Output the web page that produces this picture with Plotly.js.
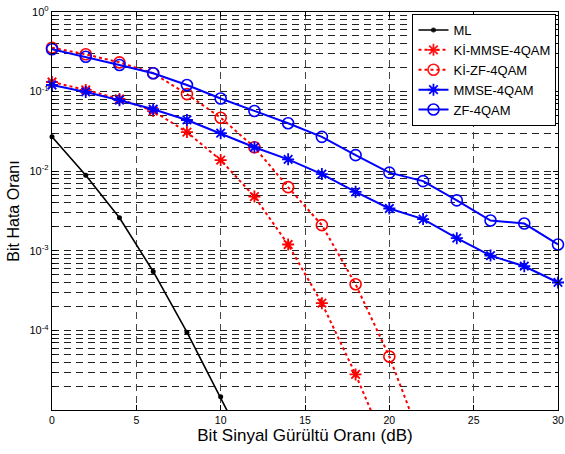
<!DOCTYPE html>
<html>
<head>
<meta charset="utf-8">
<script src="https://cdn.plot.ly/plotly-3.0.1.min.js"></script>
<style>html,body{margin:0;padding:0;background:#fff;}#chart{width:565px;height:454px;}</style>
</head>
<body>
<div id="chart"></div>
<script>
// SNR (dB)
const snr = [0,2,4,6,8,10,12,14,16,18,20,22,24,26,28,30];
// Bit error rates
const mlSnr = [0,2,4,6,8,10,12];
const mlBer = [0.027,0.0089,0.0026,5.5e-4,9.5e-5,1.47e-5,2.1e-6];
const kiMmseSnr = [0,2,4,6,8,10,12,14,16,18,20];
const kiMmseBer = [0.132,0.105,0.081,0.057,0.031,0.0138,0.0048,0.0012,2.2e-4,2.8e-5,2.8e-6];
const kiZfSnr = [0,2,4,6,8,10,12,14,16,18,20,22];
const kiZfBer = [0.356,0.294,0.233,0.17,0.093,0.047,0.020,0.0063,0.0021,3.8e-4,4.7e-5,3.6e-6];
const mmseBer = [0.121,0.099,0.078,0.060,0.044,0.030,0.020,0.0141,0.0092,0.0055,0.0034,0.0025,0.00144,8.7e-4,6.4e-4,4.0e-4];
const zfBer = [0.34,0.274,0.216,0.17,0.121,0.082,0.057,0.040,0.027,0.0159,0.0096,0.0075,0.0043,0.0024,0.0022,0.0012];
const names = ['ML','Kİ-MMSE-4QAM','Kİ-ZF-4QAM','MMSE-4QAM','ZF-4QAM'];
const xTicks = [0,5,10,15,20,25,30];
const yTickVals = [1,0.1,0.01,0.001,0.0001,0.00001];
const yTickText = ['10<sup>0</sup>','10<sup>-1</sup>','10<sup>-2</sup>','10<sup>-3</sup>','10<sup>-4</sup>',''];

const yMin = 1e-5;
const vis = arr => arr.map(v => v >= yMin ? 1 : 0);

const minorVals = [];
for (let e = -5; e < 0; e++) for (let m = 2; m <= 9; m++) minorVals.push(m * Math.pow(10, e));

const traces = [
  {x: mlSnr, y: mlBer, name: names[0], mode: 'lines+markers',
   line: {color: '#000000', width: 1.6},
   marker: {symbol: 'circle', size: 5, color: '#000000', opacity: vis(mlBer)}},
  {x: kiMmseSnr, y: kiMmseBer, name: names[1], mode: 'lines+markers',
   line: {color: '#ff0000', width: 2, dash: 'dot'},
   marker: {symbol: 'asterisk-open', size: 10, color: '#ff0000', line: {color: '#ff0000', width: 1.8}, opacity: vis(kiMmseBer)}},
  {x: kiZfSnr, y: kiZfBer, name: names[2], mode: 'lines+markers',
   line: {color: '#ff0000', width: 2, dash: 'dot'},
   marker: {symbol: 'circle-open', size: 11, color: '#ff0000', line: {color: '#ff0000', width: 1.6}, opacity: vis(kiZfBer)}},
  {x: snr, y: mmseBer, name: names[3], mode: 'lines+markers',
   line: {color: '#0000ff', width: 2},
   marker: {symbol: 'asterisk-open', size: 10, color: '#0000ff', line: {color: '#0000ff', width: 1.8}}},
  {x: snr, y: zfBer, name: names[4], mode: 'lines+markers',
   line: {color: '#0000ff', width: 2},
   marker: {symbol: 'circle-open', size: 11, color: '#0000ff', line: {color: '#0000ff', width: 1.6}}}
];
traces.forEach(t => t.cliponaxis = false);

const font = 'Arial, "Liberation Sans", sans-serif';
const layout = {
  width: 565, height: 454,
  margin: {l: 52, r: 7, t: 12, b: 44},
  paper_bgcolor: '#ffffff', plot_bgcolor: '#ffffff',
  font: {family: font, size: 10, color: '#000000'},
  showlegend: true,
  legend: {x: 0.997, y: 0.995, xanchor: 'right', yanchor: 'top',
    bgcolor: '#ffffff', bordercolor: '#000000', borderwidth: 1,
    font: {family: font, size: 13, color: '#000000'}, tracegroupgap: 0},
  xaxis: {
    range: [0, 30], tickmode: 'array', tickvals: xTicks, ticktext: xTicks.map(String),
    showline: true, linecolor: '#000000', linewidth: 1.2, mirror: 'allticks',
    ticks: 'inside', ticklen: 5, tickcolor: '#000000',
    showgrid: true, gridcolor: '#444444', gridwidth: 1, griddash: '7px,5px',
    zeroline: false, tickfont: {size: 10.5},
    title: {text: 'Bit Sinyal Gürültü Oranı (dB)', font: {size: 17}, standoff: 4}
  },
  yaxis: {
    type: 'log', range: [-5, 0], tickmode: 'array', tickvals: yTickVals, ticktext: yTickText,
    showline: true, linecolor: '#000000', linewidth: 1.2, mirror: 'allticks',
    ticks: 'inside', ticklen: 5, tickcolor: '#000000',
    showgrid: true, gridcolor: '#222222', gridwidth: 1, griddash: '7px,5px',
    zeroline: false, tickfont: {size: 11},
    minor: {tickmode: 'array', tickvals: minorVals, ticks: 'inside', ticklen: 3, tickcolor: '#000000',
      showgrid: true, gridcolor: '#222222', gridwidth: 1, griddash: '7px,5px'},
    title: {text: 'Bit Hata Oranı', font: {size: 16}, standoff: 6}
  }
};

Plotly.newPlot('chart', traces, layout, {displayModeBar: false, staticPlot: true});
</script>
</body>
</html>
